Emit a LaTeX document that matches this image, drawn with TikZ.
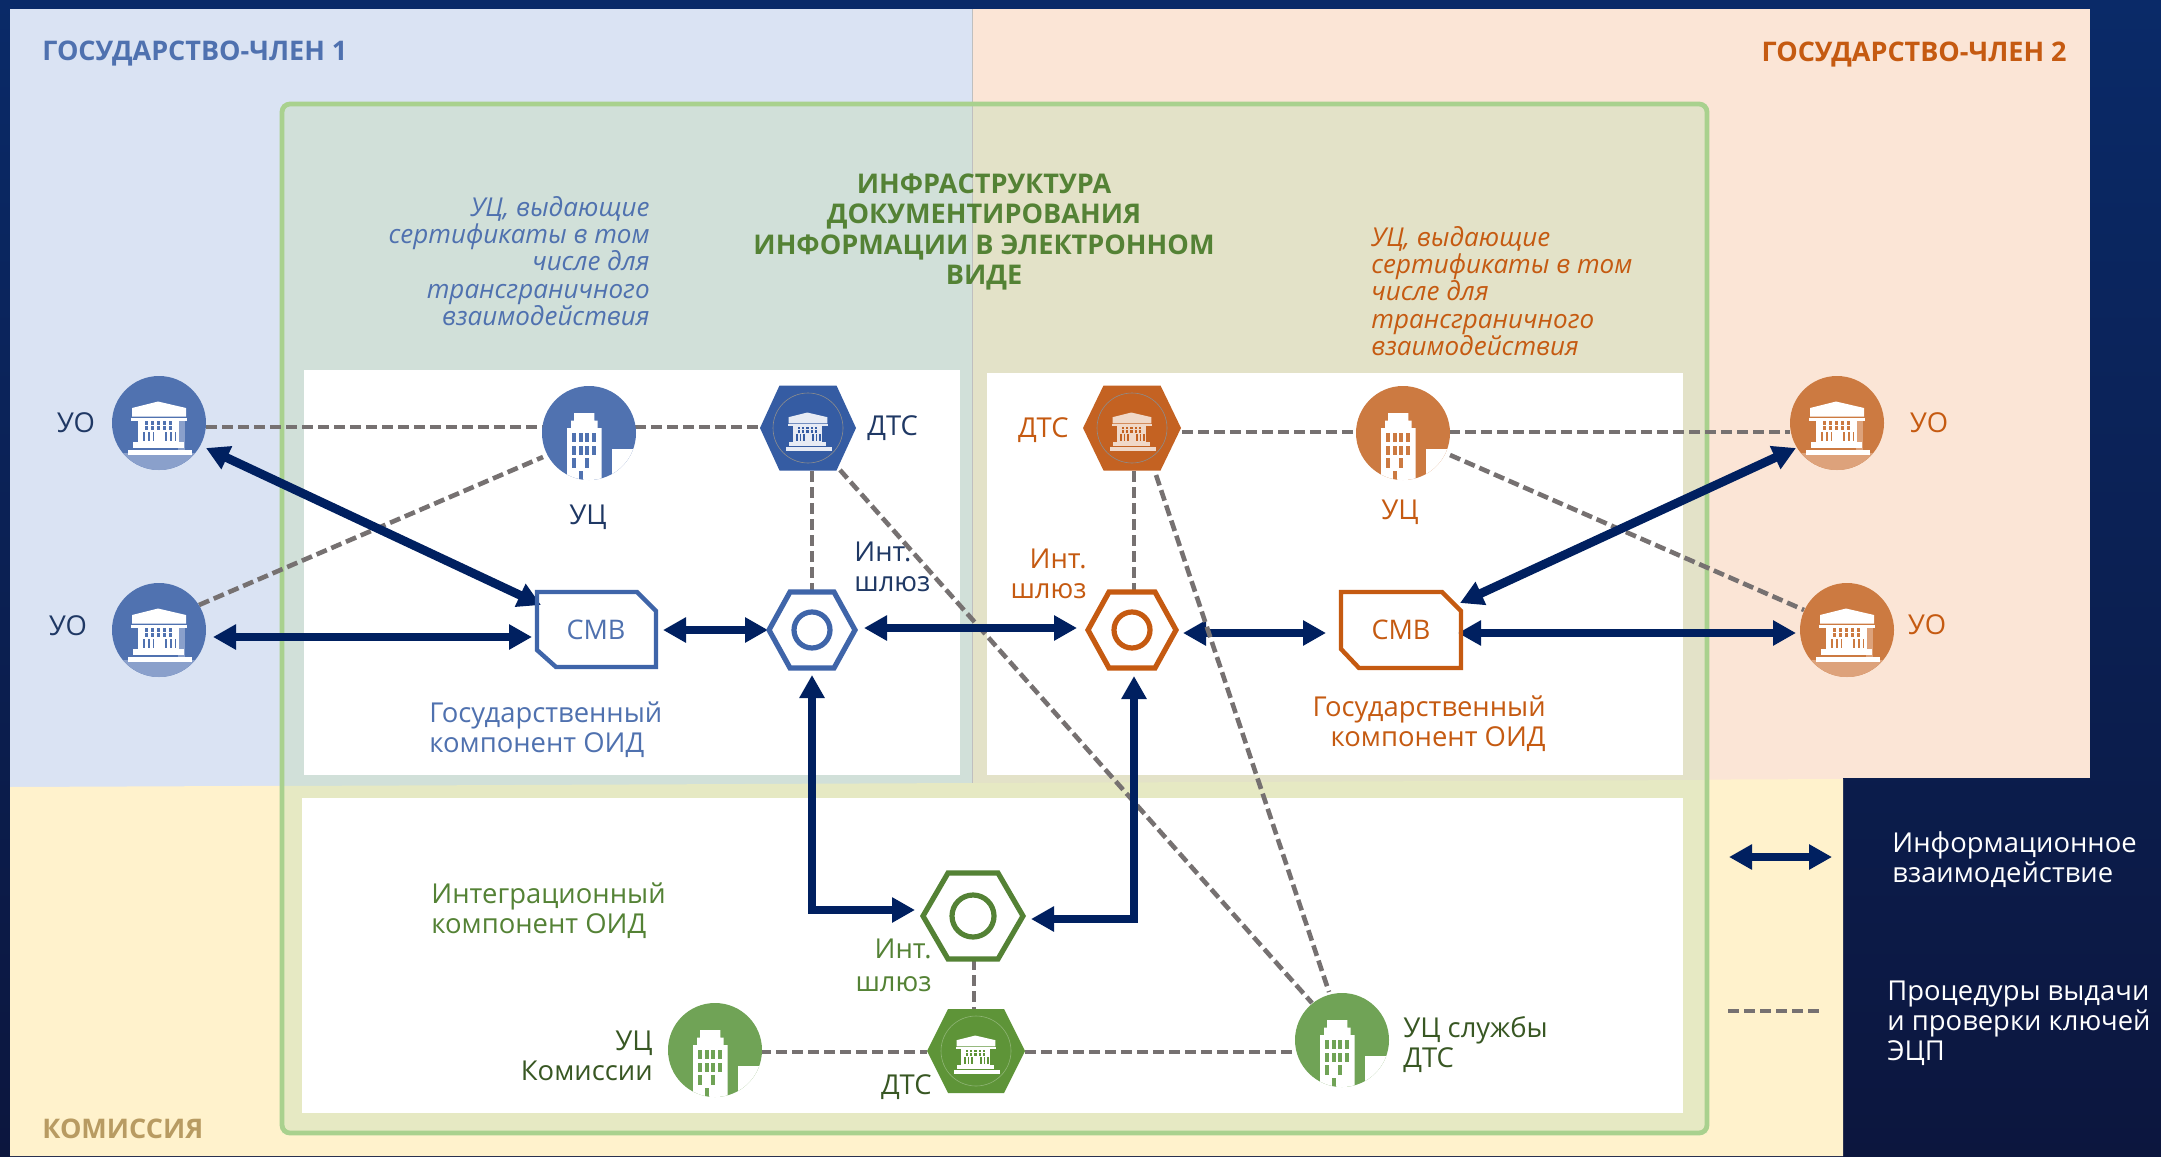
\documentclass[tikz,border=0pt]{standalone}
\usepackage{fontspec}
\setmainfont{Open Sans}
\usetikzlibrary{arrows.meta,calc}
\definecolor{navy}{HTML}{002060}
\definecolor{dashgrey}{HTML}{767171}
\definecolor{pblue}{HTML}{DAE3F3}
\definecolor{porange}{HTML}{FBE5D6}
\definecolor{pyellow}{HTML}{FFF2CC}
\definecolor{fblue}{HTML}{D1E0D9}
\definecolor{forange}{HTML}{E3E2C8}
\definecolor{fyellow}{HTML}{E6E9C3}
\definecolor{frame}{HTML}{A9D18E}
\definecolor{cblue}{HTML}{5072B0}
\definecolor{lblue}{HTML}{8AA0CB}
\definecolor{hblue}{HTML}{355CA3}
\definecolor{oblue}{HTML}{3F65A9}
\definecolor{tblue}{HTML}{4F71AF}
\definecolor{dblue}{HTML}{1F3864}
\definecolor{corange}{HTML}{CC7A41}
\definecolor{lorange}{HTML}{DDA27B}
\definecolor{horange}{HTML}{C46222}
\definecolor{oorange}{HTML}{C55A11}
\definecolor{cgreen}{HTML}{70A356}
\definecolor{hgreen}{HTML}{5E9438}
\definecolor{ogreen}{HTML}{548235}
\definecolor{dgreen}{HTML}{385723}
\definecolor{tan}{HTML}{B89B62}
\definecolor{topnavy}{HTML}{0A2A68}
\definecolor{botnavy}{HTML}{0C163E}
\tikzset{
  flow/.style={draw=navy,line width=3.8pt,miter limit=10,{Triangle[length=11.5pt,width=12pt]}-{Triangle[length=11.5pt,width=12pt]}},
  flowdiag/.style={flow,line width=4.4pt},
  keyline/.style={draw=dashgrey,line width=2.3pt,dash pattern=on 5.5pt off 2.5pt},
  lab/.style={inner sep=0pt,font=\fontsize{13.7}{15}\selectfont},
  ital/.style={inner sep=0pt,font=\fontsize{13}{13.7}\selectfont\itshape},
  head/.style={inner sep=0pt,font=\fontsize{13.5}{15}\selectfont\bfseries},
  round node/.style={circle,inner sep=0pt,minimum size=47pt,fill=#1},
  hexbox/.style={rectangle,inner sep=0pt},
  ring/.style={line width=2.6pt,fill=white},
  cmvbox/.style={rectangle,inner sep=0pt,minimum width=60pt,minimum height=38pt,font=\fontsize{13.5}{15}\selectfont}
}
% institution icon: centre x, y, scale, foreground, background
\newcommand{\instIcon}[5]{%
 \begin{scope}[shift={(#1,#2)},scale=#3]
  \fill[#4] (-27,-6.5)--(-27,-15)--(-1,-21.5)--(27,-15)--(27,-6.5)--cycle;
  \fill[#4] (-28,-5.5) rectangle (28,-2.5);
  \fill[#4] (-21,-3) rectangle (20,19);
  \fill[#4] (-26,19) rectangle (25,24.5);
  \fill[#4] (-31,26.5) rectangle (33,32);
  \foreach \wx in {-14.5,-8.5,-2.5,3.5,9.5}{
    \fill[#5] (\wx,-2) rectangle ++(3.4,3.8);
    \fill[#5] (\wx,3) rectangle ++(3.4,4);
  }
  \foreach \wx in {-16,-11,-6.5,6,11,15.5}{
    \fill[#5] (\wx,8.5) rectangle ++(1.9,9.5);
  }
 \end{scope}}
% tower icon clipped by a circle
\newcommand{\towerIcon}[3]{%
 \begin{scope}[shift={(#1,#2)}]
  \clip (0,0) circle [radius=47];
  \fill[white] (-22,-5)--(-18,-5)--(-18,-12.3)--(-15,-12.3)--(-15,-20)--(5.3,-20)--(5.3,-12.3)--(8.7,-12.3)--(8.7,-5)--(12.7,-5)--(12.7,48)--(-22,48)--cycle;
  \fill[white] (22.7,16.3) rectangle (48,48);
  \foreach \wx in {-16.7,-10,-3.7,3}{
    \fill[#3] (\wx,0.3) rectangle ++(3.7,9);
    \fill[#3] (\wx,12.7) rectangle ++(3.7,9.3);
  }
  \fill[#3] (-16.7,25.3) rectangle ++(3.7,9.4);
  \fill[#3] (-3.7,25.3) rectangle ++(3.7,9.4);
  \fill[#3] (-10,38) rectangle ++(3.7,10);
 \end{scope}}
% organ node: name, x, y, main, light
\newcommand{\organNode}[5]{%
 \node[round node=#4] (#1) at (#2,#3) {};
 \begin{scope}
  \clip (#2,#3) circle [radius=47];
  \fill[#5] ($(#2,#3)+(-48,30)$) rectangle ($(#2,#3)+(48,48)$);
  \fill[#5] ($(#2,#3)+(19,-3)$) rectangle ($(#2,#3)+(26,30)$);
 \end{scope}
 \instIcon{#2}{#3}{1}{white}{#4}}
% centre node: name, x, y, main
\newcommand{\centerNode}[4]{%
 \node[round node=#4] (#1) at (#2,#3) {};
 \towerIcon{#2}{#3}{#4}}
% hexagon outline: name, x, y, half width, half top, half height, style
\newcommand{\hexShape}[7]{%
 \node[hexbox,minimum width=#4pt,minimum height=#6pt] (#1) at (#2,#3) {};
 \path[#7] ($(#2,#3)+(-#4,0)$)--($(#2,#3)+(-#5,-#6)$)--($(#2,#3)+(#5,-#6)$)--($(#2,#3)+(#4,0)$)--($(#2,#3)+(#5,#6)$)--($(#2,#3)+(-#5,#6)$)--cycle;}
\begin{document}
\begin{tikzpicture}[x=0.5pt,y=-0.5pt]
\useasboundingbox (0,0) rectangle (2161,1156);
\shade[top color=topnavy,bottom color=botnavy] (0,0) rectangle (2161,1156);
% state panels
\fill[pblue] (10,9) rectangle (972,790);
\fill[porange] (972,9) rectangle (2090,778);
\fill[porange] (972,770) rectangle (1843,790);
\fill[pyellow] (10,787) -- (1843,779) -- (1843,1156) -- (10,1156) -- cycle;
\draw[line width=.4pt,draw=black!25] (972,9) -- (972,104);
% frame
\fill[fblue] (282,104) rectangle (972,790);
\fill[forange] (972,104) rectangle (1707,790);
\fill[fyellow] (282,786) -- (972,783) -- (1707,780) -- (1707,1133) -- (282,1133) -- cycle;
\draw[line width=.4pt,draw=black!25] (972,104) -- (972,783);
\draw[draw=frame,line width=2.4pt,rounded corners=4pt] (282,104) rectangle (1707,1133);
% white component panels
\fill[white] (304,370) rectangle (960,775);
\fill[white] (987,373) rectangle (1683,775);
\fill[white] (302,798) rectangle (1683,1113);
% named nodes are laid out first so that the connectors can use them
\coordinate (uoa) at (159,423); \coordinate (uob) at (159,630);
\coordinate (ucb) at (589,433); \coordinate (dtb) at (808,428);
\coordinate (gwb) at (812,630); \coordinate (cmb) at (596,630);
\coordinate (dto) at (1132,428); \coordinate (gwo) at (1132,630);
\coordinate (cmo) at (1401,630); \coordinate (uco) at (1403,433);
\coordinate (uoc) at (1837,423); \coordinate (uod) at (1847,630);
\coordinate (gwg) at (973,916); \coordinate (dtg) at (976,1051);
\coordinate (ucg) at (715,1050); \coordinate (ucd) at (1342,1040);
\coordinate (legA1) at (1729,857); \coordinate (legA2) at (1832,857);
\coordinate (legD1) at (1728,1011); \coordinate (legD2) at (1819,1011);
% key procedure lines
\draw[keyline] ($(uoa)+(47,4)$) -- ($(ucb)+(-46,-6)$);
\draw[keyline] ($(ucb)+(46,-6)$) -- ($(dtb)+(-48,-1)$);
\draw[keyline] ($(uob)+(40,-25)$) -- ($(ucb)+(-46,24)$);
\draw[keyline] ($(dtb)+(4,43)$) -- ($(gwb)+(0,-38)$);
\draw[keyline] ($(dtb)+(32,42)$) -- ($(ucd)+(-30,-37)$);
\draw[keyline] ($(dto)+(2,43)$) -- ($(gwo)+(2,-38)$);
\draw[keyline] ($(dto)+(50,4)$) -- ($(uco)+(-46,-1)$);
\draw[keyline] ($(uco)+(46,-1)$) -- ($(uoc)+(-47,9)$);
\draw[keyline] ($(uco)+(47,22)$) -- ($(uod)+(-43,-20)$);
\draw[keyline] ($(gwg)+(1,43)$) -- ($(dtg)+(-2,-42)$);
\draw[keyline] ($(ucg)+(45,2)$) -- ($(dtg)+(-49,1)$);
\draw[keyline] ($(dtg)+(49,1)$) -- ($(ucd)+(-45,12)$);
% information flows
\draw[flowdiag] ($(uoa)+(47,25)$) -- ($(cmb)+(-55,-25)$);
\draw[flow] ($(uob)+(54,7)$) -- ($(cmb)+(-64,7)$);
\draw[flow] ($(cmb)+(67,0)$) -- ($(gwb)+(-44,0)$);
\draw[flow] ($(gwb)+(52,-2)$) -- ($(gwo)+(-55,-2)$);
\draw[flow] ($(gwo)+(51,3)$) -- ($(cmo)+(-75,3)$);
\draw[flow] ($(cmo)+(57,3)$) -- ($(uod)+(-51,3)$);
\draw[flowdiag] ($(cmo)+(59,-27)$) -- ($(uoc)+(-41,25)$);
\draw[flow] ($(gwb)+(0,45)$) |- ($(gwg)+(-58,-6)$);
\draw[flow] ($(gwo)+(2,46)$) |- ($(gwg)+(58,3)$);
\draw[keyline] ($(dto)+(24,47)$) -- ($(ucd)+(-13,-48)$);
% state 1 nodes
\organNode{uoa}{159}{423}{cblue}{lblue}
\organNode{uob}{159}{630}{cblue}{lblue}
\centerNode{ucb}{589}{433}{cblue}
\hexShape{dtb}{808}{428}{48}{28.5}{42.5}{fill=hblue}
\draw[black!45,line width=.3pt] (808,428) circle [radius=35];
\instIcon{808}{428}{0.72}{white!88!hblue}{hblue}
\hexShape{gwb}{812}{630}{43}{22}{38}{draw=oblue,ring}
\draw[oblue,line width=2.6pt] (812,630) circle [radius=18];
\node[cmvbox,text=tblue] (cmb) at (596,630) {СМВ};
\draw[oblue,line width=2.2pt] (537,592) -- (637,592) -- (656,611) -- (656,667) -- (556,667) -- (537,650) -- cycle;
% state 2 nodes
\hexShape{dto}{1132}{428}{49}{28.5}{42.5}{fill=horange}
\draw[black!45,line width=.3pt] (1132,428) circle [radius=35];
\instIcon{1132}{428}{0.72}{white!75!horange}{horange}
\hexShape{gwo}{1132}{630}{44}{23}{38}{draw=oorange,ring}
\draw[oorange,line width=2.6pt] (1132,630) circle [radius=18];
\node[cmvbox,text=oorange] (cmo) at (1401,630) {СМВ};
\draw[oorange,line width=2.2pt] (1341,592) -- (1442,592) -- (1461,611) -- (1461,668) -- (1359,668) -- (1341,649) -- cycle;
\centerNode{uco}{1403}{433}{corange}
\organNode{uoc}{1837}{423}{corange}{lorange}
\organNode{uod}{1847}{630}{corange}{lorange}
% commission nodes
\hexShape{gwg}{973}{916}{50}{25}{43}{draw=ogreen,ring}
\draw[ogreen,line width=2.6pt] (973,916) circle [radius=21];
\hexShape{dtg}{976}{1051}{49}{28}{42}{fill=hgreen}
\draw[white!30!hgreen,line width=.3pt] (976,1051) circle [radius=35];
\instIcon{976}{1051}{0.72}{white}{hgreen}
\centerNode{ucg}{715}{1050}{cgreen}
\centerNode{ucd}{1342}{1040}{cgreen}
% titles
\node[head,text=tblue,anchor=west] (t1) at (42,54) {ГОСУДАРСТВО-ЧЛЕН 1};
\node[head,text=oorange,anchor=east] (t2) at (2067,55) {ГОСУДАРСТВО-ЧЛЕН 2};
\node[head,text=tan,anchor=west] (t3) at (42,1129) {КОМИССИЯ};
\node[inner sep=0pt,font=\fontsize{13.55}{15.2}\selectfont\bfseries,text=ogreen,align=center] (t4) at (984,232) {ИНФРАСТРУКТУРА\\ДОКУМЕНТИРОВАНИЯ\\ИНФОРМАЦИИ В ЭЛЕКТРОННОМ\\ВИДЕ};
\node[ital,text=tblue,align=right,anchor=east] (i1) at (650,261) {УЦ, выдающие\\сертификаты в том\\числе для\\трансграничного\\взаимодействия};
\node[ital,text=oorange,align=left,anchor=west] (i2) at (1371,291) {УЦ, выдающие\\сертификаты в том\\числе для\\трансграничного\\взаимодействия};
% labels
\node[lab,text=dblue] (l1) at (76,423) {УО};
\node[lab,text=dblue] (l2) at (68,626) {УО};
\node[lab,text=dblue] (l3) at (588,517) {УЦ};
\node[lab,text=dblue,anchor=west] (l4) at (867,428) {ДТС};
\node[lab,text=dblue,align=left,anchor=west] (l5) at (854,567) {Инт.\\шлюз};
\node[lab,text=oorange,anchor=east] (l6) at (1069,430) {ДТС};
\node[lab,text=oorange,align=right,anchor=east] (l7) at (1087,574) {Инт.\\шлюз};
\node[lab,text=oorange] (l8) at (1400,512) {УЦ};
\node[lab,text=oorange] (l9) at (1929,423) {УО};
\node[lab,text=oorange] (l10) at (1927,625) {УО};
\node[lab,text=tblue,align=left,anchor=west] (l11) at (429,730) {Государственный\\компонент ОИД};
\node[lab,text=oorange,align=right,anchor=east] (l12) at (1546,724) {Государственный\\компонент ОИД};
\node[lab,text=ogreen,align=left,anchor=west] (l13) at (431,911) {Интеграционный\\компонент ОИД};
\node[lab,text=ogreen,align=right,anchor=east,font=\fontsize{13.7}{16.5}\selectfont] (l14) at (932,965) {Инт.\\шлюз};
\node[lab,text=dgreen,anchor=east] (l15) at (932,1087) {ДТС};
\node[lab,text=dgreen,align=right,anchor=east] (l16) at (653,1056) {УЦ\\Комиссии};
\node[lab,text=dgreen,align=left,anchor=west] (l17) at (1403,1045) {УЦ службы\\ДТС};
% legend
\draw[flow] (legA1) -- (legA2);
\draw[keyline] (legD1) -- (legD2);
\node[lab,text=white,align=left,anchor=west] (l18) at (1892,860) {Информационное\\взаимодействие};
\node[lab,text=white,align=left,anchor=west] (l19) at (1887,1023) {Процедуры выдачи\\и проверки ключей\\ЭЦП};
\end{tikzpicture}
\end{document}
